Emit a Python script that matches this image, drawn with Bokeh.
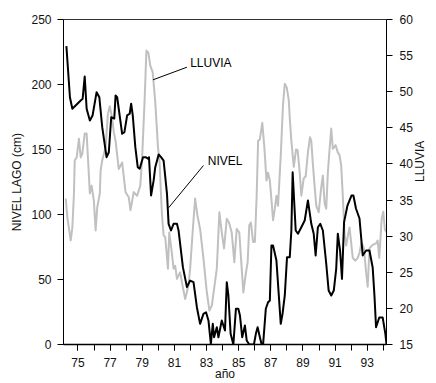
import math
from bokeh.plotting import figure
from bokeh.models import Range1d, LinearAxis, FixedTicker, Label
from bokeh.embed import file_html
from bokeh.resources import INLINE

# ---------------- data ----------------
nivel_year = [74.28, 74.50, 74.65, 75.17, 75.29, 75.42, 75.54, 75.74, 75.91, 76.16,
              76.33, 76.51, 76.78, 76.92, 77.07, 77.26, 77.34, 77.44, 77.75, 77.89,
              78.06, 78.22, 78.31, 78.41, 78.57, 78.72, 78.84, 79.05, 79.21, 79.38,
              79.42, 79.55, 79.71, 79.81, 80.02, 80.17, 80.33, 80.54, 80.64, 80.79,
              80.95, 81.16, 81.26, 81.53, 81.78, 81.98, 82.19, 82.40, 82.60, 82.81,
              82.97, 83.12, 83.27, 83.39, 83.47, 83.64, 83.74, 83.95, 84.15, 84.26,
              84.36, 84.50, 84.67, 84.83, 84.98, 85.08, 85.22, 85.39, 85.50, 85.66,
              85.95, 86.07, 86.18, 86.32, 86.43, 86.52, 86.69, 86.83, 86.94, 87.04,
              87.14, 87.35, 87.62, 87.73, 87.87, 88.01, 88.18, 88.28, 88.36, 88.55,
              88.69, 88.90, 89.11, 89.31, 89.52, 89.67, 89.79, 89.93, 90.08, 90.24,
              90.45, 90.60, 90.76, 90.92, 91.07, 91.17, 91.31, 91.43, 91.56, 91.77,
              92.02, 92.14, 92.30, 92.52, 92.72, 92.93, 93.14, 93.34, 93.45, 93.55,
              93.75, 93.96, 94.13, 94.20]
nivel = [229.5, 190.2, 181.3, 187.7, 189.0, 206.2, 181.3, 172.3, 176.2, 194.1,
         190.2, 167.2, 144.1, 147.9, 174.8, 173.8, 191.5, 190.2, 162.1, 163.3,
         176.2, 177.5, 185.2, 176.2, 151.8, 136.4, 135.2, 144.1, 144.1, 142.8,
         144.1, 114.6, 126.2, 136.4, 146.2, 144.1, 141.5, 115.9, 92.8, 87.7,
         92.8, 92.8, 87.7, 59.5, 44.1, 49.2, 47.9, 28.7, 15.9, 23.6,
         24.8, 18.5, 0.5, 15.9, 5.6, 13.3, 5.6, 18.5, 10.8, 47.9,
         37.7, 8.2, 0.0, 27.5, 27.5, 22.3, 5.6, 14.6, 3.1, 0.0,
         0.0, 8.2, 13.3, 5.6, 0.0, 0.0, 27.5, 32.5, 33.8, 76.2,
         76.2, 64.6, 15.9, 23.6, 37.7, 67.2, 67.2, 87.7, 132.5, 87.7,
         85.2, 90.2, 95.4, 110.8, 92.8, 85.2, 68.5, 90.2, 92.8, 87.7,
         62.1, 41.5, 37.7, 41.5, 58.2, 85.2, 72.3, 50.5, 94.1, 106.9,
         114.6, 114.6, 104.6, 96.9, 68.5, 72.3, 72.3, 59.2, 37.7, 13.3,
         20.8, 20.8, 8.2, 0.0]

lluvia_year = [74.24, 74.34, 74.55, 74.65, 74.75, 74.80, 74.92, 75.06, 75.17, 75.27,
               75.42, 75.54, 75.62, 75.74, 75.85, 75.99, 76.10, 76.20, 76.36, 76.41,
               76.51, 76.72, 76.86, 76.98, 77.13, 77.23, 77.34, 77.54, 77.75, 77.96,
               78.16, 78.27, 78.47, 78.68, 78.88, 78.99, 79.15, 79.26, 79.38, 79.50,
               79.65, 79.81, 79.98, 80.08, 80.19, 80.23, 80.33, 80.43, 80.60, 80.68,
               80.81, 80.95, 81.05, 81.16, 81.36, 81.47, 81.67, 81.88, 81.98, 82.15,
               82.29, 82.43, 82.60, 82.81, 83.02, 83.18, 83.33, 83.47, 83.64, 83.80,
               83.95, 84.09, 84.26, 84.40, 84.57, 84.73, 84.88, 85.04, 85.19, 85.29,
               85.43, 85.56, 85.66, 85.76, 85.90, 86.01, 86.12, 86.21, 86.32, 86.47,
               86.60, 86.73, 86.83, 86.94, 87.04, 87.14, 87.25, 87.35, 87.45, 87.62,
               87.76, 87.87, 87.99, 88.12, 88.18, 88.28, 88.43, 88.57, 88.67, 88.80,
               88.90, 89.05, 89.17, 89.31, 89.44, 89.52, 89.62, 89.75, 89.83, 89.98,
               90.13, 90.24, 90.35, 90.45, 90.55, 90.66, 90.76, 90.86, 91.03, 91.17,
               91.28, 91.38, 91.48, 91.59, 91.69, 91.79, 91.90, 92.00, 92.10, 92.25,
               92.41, 92.52, 92.64, 92.79, 92.93, 93.03, 93.14, 93.34, 93.55, 93.65,
               93.75, 93.90, 94.00, 94.10, 94.19]
lluvia = [35.2, 32.6, 29.4, 31.2, 35.9, 40.5, 40.9, 43.5, 40.9, 41.4,
          44.2, 44.2, 40.9, 35.9, 37.0, 34.9, 30.8, 34.0, 35.9, 39.1,
          40.5, 42.3, 46.9, 48.0, 46.3, 44.4, 43.2, 39.3, 40.2, 36.1,
          35.4, 33.6, 36.1, 35.6, 37.0, 40.7, 49.0, 55.7, 55.4, 53.6,
          52.7, 48.6, 42.3, 40.2, 34.7, 32.9, 30.1, 29.9, 25.5, 30.5,
          28.3, 25.5, 25.9, 24.1, 25.0, 23.6, 21.3, 23.2, 25.5, 31.0,
          35.2, 32.9, 31.0, 26.9, 22.2, 19.7, 20.4, 22.7, 25.5, 33.3,
          30.5, 28.3, 32.4, 31.9, 30.5, 26.4, 31.0, 30.5, 25.5, 22.2,
          24.6, 26.4, 31.5, 31.9, 29.2, 29.2, 35.6, 43.2, 43.4, 45.7,
          42.3, 37.7, 38.8, 37.7, 35.1, 32.2, 33.8, 35.6, 34.2, 41.2,
          48.2, 51.1, 50.6, 48.8, 46.4, 43.2, 39.6, 42.0, 41.9, 38.8,
          35.6, 38.0, 38.3, 41.6, 43.7, 43.2, 39.9, 36.3, 34.2, 33.3,
          36.6, 38.4, 34.5, 33.8, 38.8, 42.1, 44.9, 42.1, 42.6, 41.6,
          41.2, 39.8, 35.6, 30.2, 28.7, 30.0, 31.2, 29.1, 27.0, 26.6,
          27.0, 27.7, 29.1, 28.4, 25.0, 23.0, 28.3, 28.8, 29.0, 29.4,
          27.0, 32.4, 33.4, 30.9, 30.6]

x_labeled_ticks = [75, 77, 79, 81, 83, 85, 87, 89, 91, 93]
x_all_ticks = list(range(74, 95))
nivel_ticks = [0, 50, 100, 150, 200, 250]
lluvia_ticks = [15, 20, 25, 30, 35, 40, 45, 50, 55, 60]

# annotation anchors (data units, left axis)
lluvia_label = dict(text="LLUVIA", x=81.98, y=216.4)
lluvia_leader = dict(x0=79.67, y0=203.6, x1=81.78, y1=213.3)
nivel_label = dict(text="NIVEL", x=83.08, y=140.8)
nivel_leader = dict(x0=80.64, y0=105.2, x1=82.81, y1=137.7)

FONT = "Liberation Sans"
FS = "12px"

# ---------------- figure ----------------
p = figure(width=436, height=383, output_backend="svg", toolbar_location=None,
           x_range=Range1d(74.1, 94.2), y_range=Range1d(0, 250),
           min_border_left=63, min_border_right=49, min_border_top=19,
           min_border_bottom=39, background_fill_color="white",
           border_fill_color="white")
p.extra_y_ranges = {"lluvia": Range1d(15, 60)}
p.grid.visible = False
p.outline_line_color = "#333333"
p.outline_line_width = 1

p.line(lluvia_year, lluvia, y_range_name="lluvia", line_color="#c0c0c0",
       line_width=2, line_join="round")
p.line(nivel_year, nivel, line_color="black", line_width=2, line_join="round")

p.segment(x0=[lluvia_leader["x0"], nivel_leader["x0"]],
          y0=[lluvia_leader["y0"], nivel_leader["y0"]],
          x1=[lluvia_leader["x1"], nivel_leader["x1"]],
          y1=[lluvia_leader["y1"], nivel_leader["y1"]],
          line_color="black", line_width=1)

for lab in (lluvia_label, nivel_label):
    p.add_layout(Label(x=lab["x"], y=lab["y"], text=lab["text"],
                       text_baseline="middle", text_align="left",
                       text_font=FONT, text_font_size=FS, text_color="black"))

right = LinearAxis(y_range_name="lluvia", axis_label="LLUVIA",
                   ticker=FixedTicker(ticks=lluvia_ticks))
p.add_layout(right, "right")

p.xaxis.ticker = FixedTicker(ticks=x_labeled_ticks, minor_ticks=x_all_ticks)
p.xaxis.axis_label = "año"
p.yaxis[0].ticker = FixedTicker(ticks=nivel_ticks)
p.yaxis[0].axis_label = "NIVEL LAGO (cm)"

for ax in p.axis:
    ax.major_tick_in = 0
    ax.major_tick_out = 6
    ax.minor_tick_in = 0
    ax.minor_tick_out = 0
    ax.axis_line_color = "black"
    ax.axis_line_width = 1
    ax.major_tick_line_color = "black"
    ax.major_label_text_font = FONT
    ax.major_label_text_font_size = FS
    ax.major_label_text_color = "#111111"
    ax.axis_label_text_font = FONT
    ax.axis_label_text_font_size = FS
    ax.axis_label_text_font_style = "normal"
    ax.axis_label_text_color = "#111111"

p.xaxis.minor_tick_out = 6
p.xaxis.minor_tick_line_color = "black"
p.xaxis.axis_line_width = 1.5
p.xaxis.major_label_standoff = 7
p.xaxis.axis_label_standoff = -3

p.yaxis[0].major_label_standoff = 6
p.yaxis[0].axis_label_standoff = 4

right.major_label_standoff = 7
right.axis_label_standoff = 4
right.axis_label_orientation = math.pi / 2

open("out.html", "w").write(file_html(p, INLINE))
